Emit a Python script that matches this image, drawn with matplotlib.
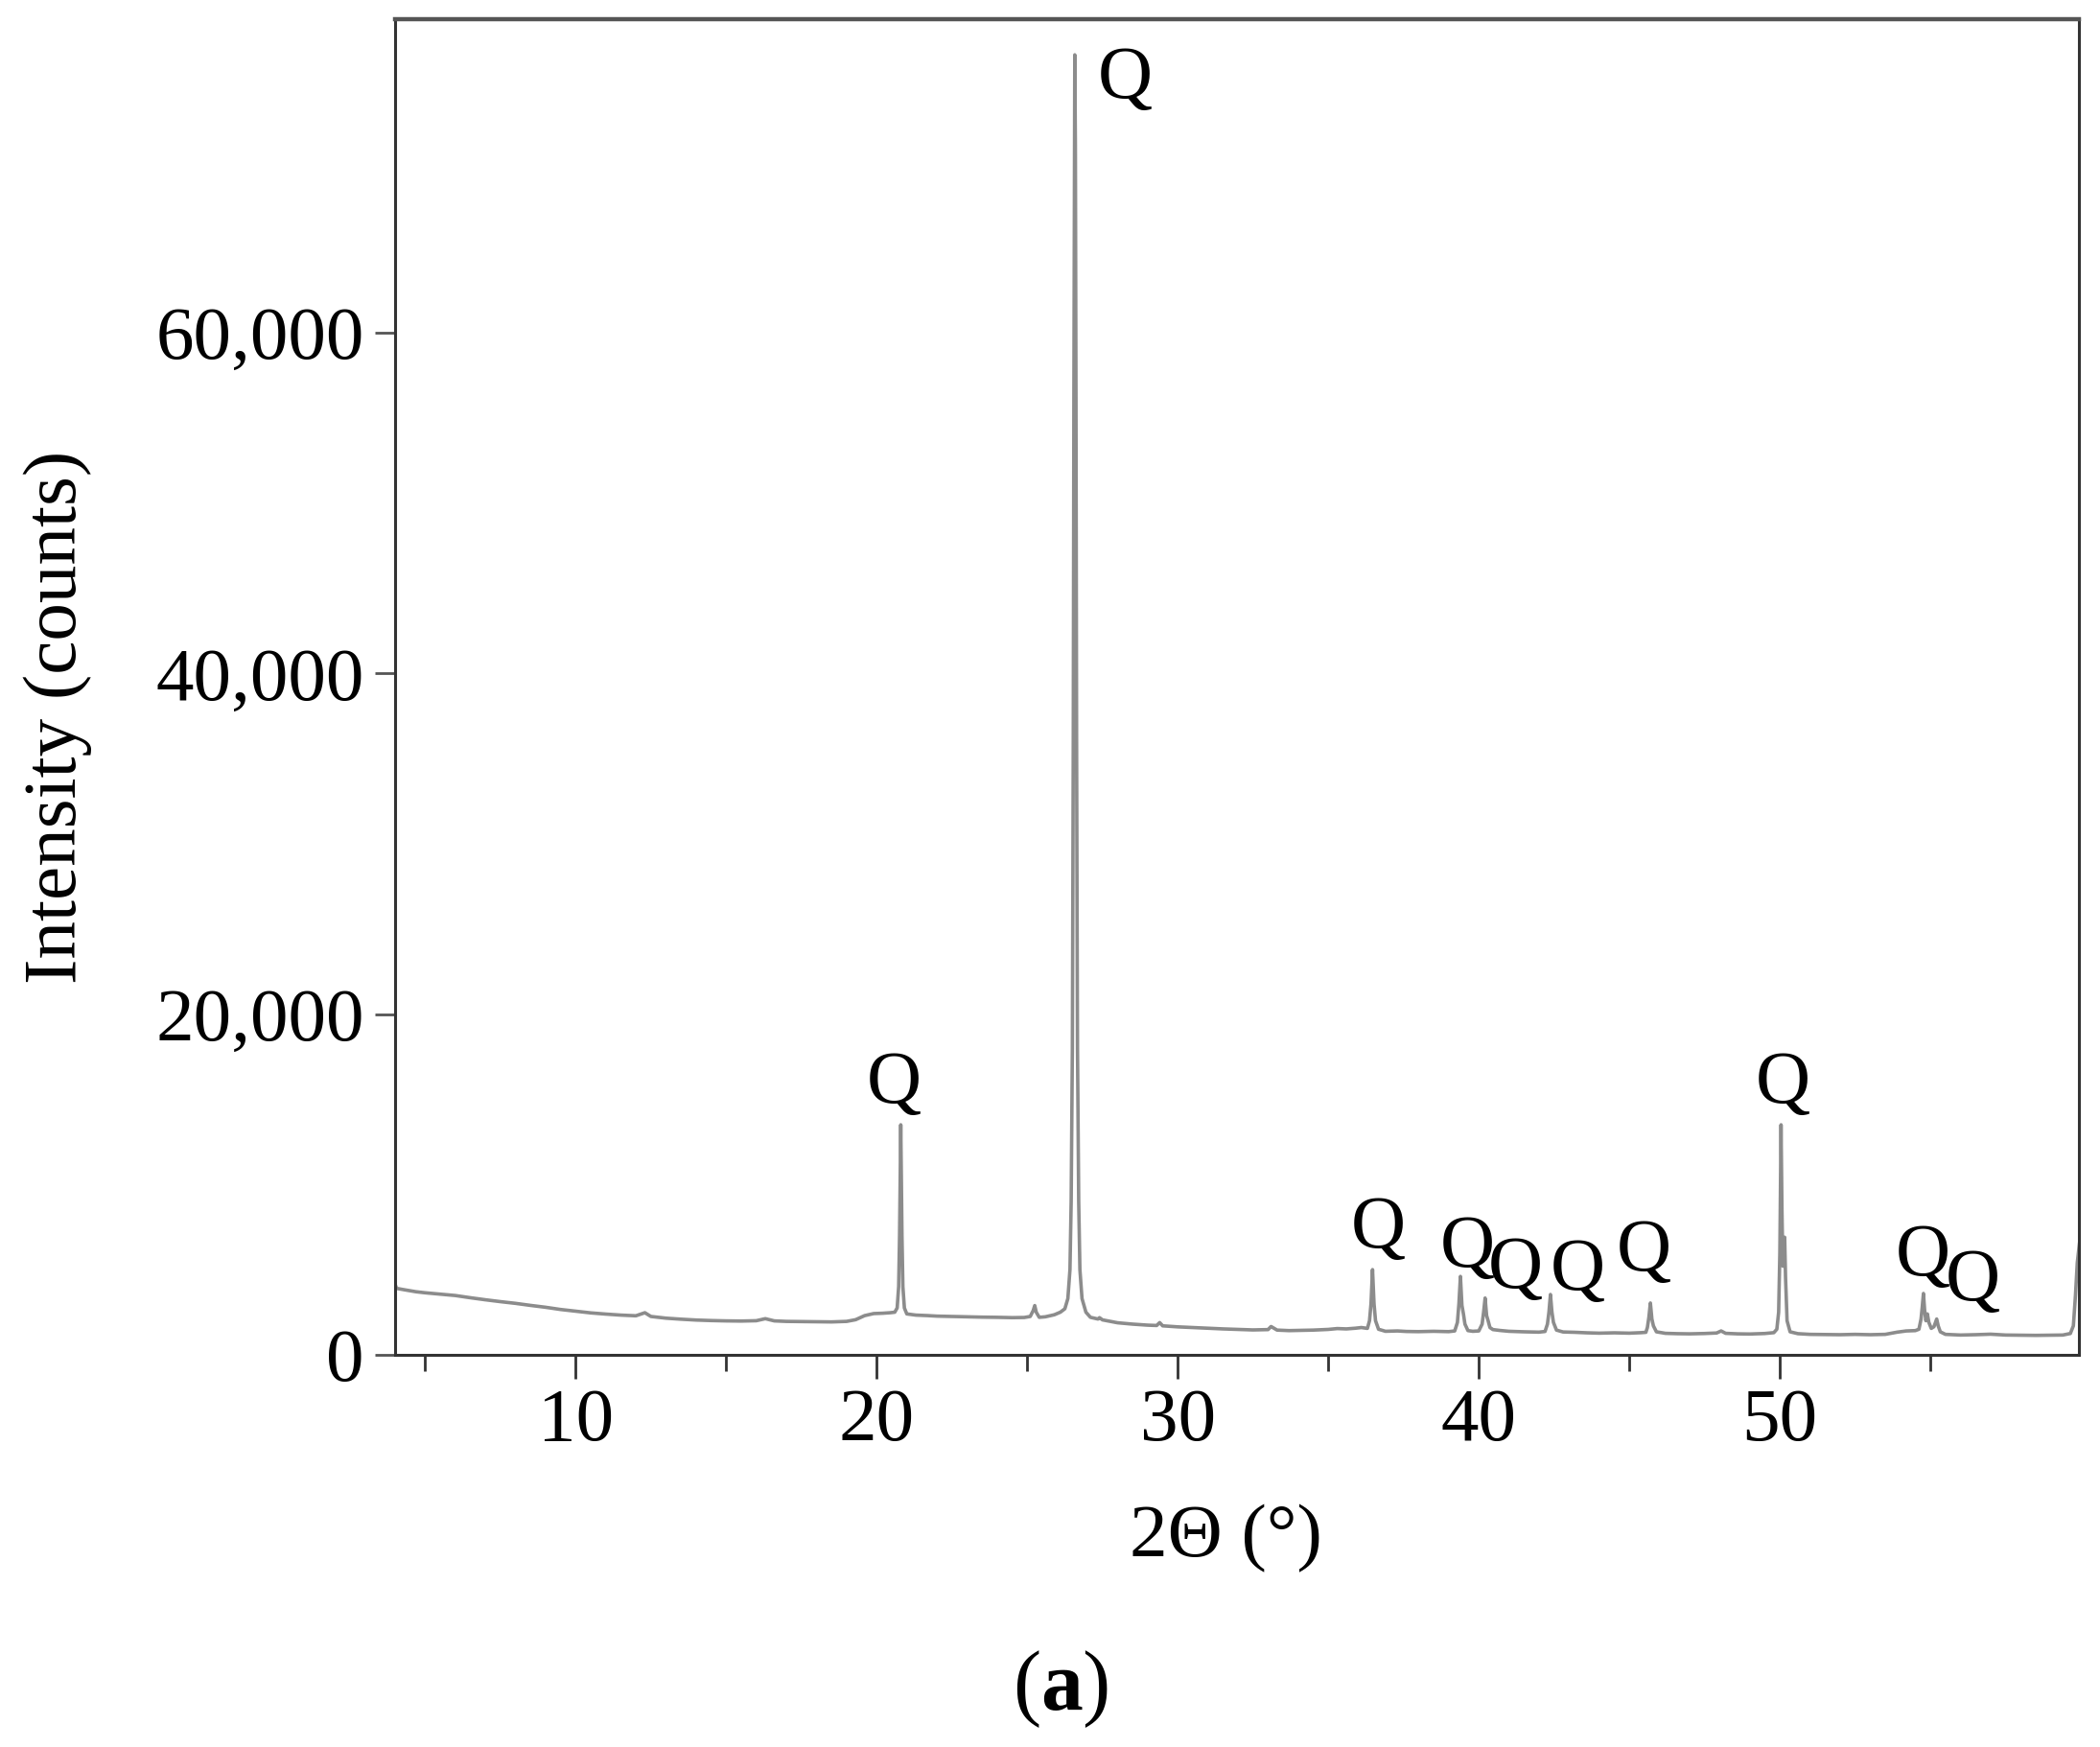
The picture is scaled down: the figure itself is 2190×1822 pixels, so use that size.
import matplotlib
matplotlib.use("Agg")
import matplotlib.pyplot as plt
import numpy as np
from matplotlib.ticker import FuncFormatter, MultipleLocator

# XRD pattern: 2-theta (deg) and intensity (counts)
two_theta = [
    4.0, 4.05, 4.3, 4.7, 5.0, 5.5, 6.0, 6.5, 7.0, 7.5, 8.0, 8.5, 9.0, 9.5,
    10.0, 10.5, 11.0, 11.5, 12.0, 12.3, 12.5, 13.0, 13.5, 14.0, 14.5, 15.0,
    15.5, 16.0, 16.3, 16.6, 17.0, 17.5, 18.0, 18.5, 19.0, 19.3, 19.6, 19.9,
    20.2, 20.45,
    20.6, 20.68, 20.73, 20.76, 20.78, 20.8, 20.82, 20.84, 20.87, 20.92, 21.0,
    21.3, 21.7, 22.0, 22.5, 23.0, 23.5, 24.0, 24.5, 24.9, 25.1, 25.2, 25.25,
    25.3, 25.4, 25.6, 25.9, 26.1,
    26.25, 26.35, 26.42, 26.46, 26.5, 26.53, 26.55, 26.57, 26.58, 26.6,
    26.62, 26.64, 26.67, 26.71, 26.75, 26.82, 26.95, 27.1,
    27.35, 27.4, 27.5, 28.0, 28.5, 29.0, 29.3, 29.4, 29.5, 30.0, 30.5, 31.0,
    31.5, 32.0, 32.5, 33.0, 33.1, 33.3, 33.7, 34.0, 34.5, 35.0, 35.3, 35.6,
    35.9, 36.1, 36.3,
    36.37, 36.42, 36.47, 36.52, 36.57, 36.67,
    36.9, 37.3, 37.6, 38.0, 38.5, 39.0, 39.2,
    39.29, 39.34, 39.39, 39.44, 39.49, 39.54, 39.64,
    39.8, 40.0,
    40.11, 40.16, 40.21, 40.26, 40.31, 40.37, 40.47,
    40.7, 41.0, 41.5, 42.0, 42.2,
    42.28, 42.33, 42.38, 42.43, 42.48, 42.58,
    42.8, 43.2, 43.6, 44.0, 44.5, 45.0, 45.4, 45.55,
    45.6, 45.65, 45.7, 45.75, 45.8, 45.9,
    46.2, 46.6, 47.0, 47.5, 47.9, 48.05, 48.2, 48.6, 49.0, 49.5, 49.8,
    49.9, 49.96, 50.0, 50.02, 50.04, 50.07, 50.1, 50.13, 50.16, 50.19,
    50.24, 50.34,
    50.6, 51.0, 51.5, 52.0, 52.5, 53.0, 53.5, 53.9, 54.2, 54.5,
    54.62, 54.69, 54.73, 54.77, 54.81, 54.85, 54.9, 54.95, 55.03, 55.12,
    55.17, 55.21, 55.26, 55.33, 55.5,
    56.0, 56.5, 57.0, 57.5, 58.0, 58.5, 59.0, 59.4, 59.65, 59.75, 59.82,
    59.88, 59.95,
]
intensity = [
    4150, 3900, 3820, 3700, 3640, 3560, 3480, 3350, 3230, 3120, 3020, 2900, 2790, 2660,
    2560, 2460, 2390, 2330, 2290, 2470, 2250, 2150, 2090, 2040, 2010, 1990,
    1980, 2000, 2120, 1990, 1960, 1950, 1940, 1930, 1960, 2060, 2300, 2420,
    2440, 2470,
    2500, 2750, 4000, 7000, 10500, 13500, 10500, 7000, 4000, 2750, 2400,
    2330, 2300, 2270, 2250, 2230, 2210, 2200, 2180, 2190, 2250, 2600, 2890,
    2500, 2200, 2230, 2350, 2500,
    2700, 3300, 5000, 9000, 18000, 36000, 56000, 71000, 76300, 71000,
    56000, 36000, 18000, 9000, 5000, 3300, 2500, 2200,
    2100, 2180, 2050, 1880, 1800, 1740, 1720, 1890, 1700, 1640, 1600, 1560,
    1520, 1490, 1460, 1480, 1660, 1450, 1420, 1430, 1450, 1490, 1540, 1520,
    1560, 1600, 1550,
    2000, 3000, 5000, 3000, 2000, 1500,
    1380, 1400, 1370, 1360, 1380, 1360, 1400,
    1900, 3000, 4600, 2900, 2400, 1800, 1420,
    1380, 1400,
    1800, 2500, 3330, 2300, 2000, 1600, 1480,
    1430, 1380, 1350, 1330, 1370,
    1800, 2500, 3540, 2500, 1900, 1450,
    1340, 1320, 1290, 1270, 1290, 1270, 1300, 1320,
    1600, 2200, 3040, 2100, 1700, 1350,
    1260, 1240, 1230, 1250, 1280, 1400, 1260, 1230, 1220, 1250, 1300,
    1500, 2500, 6000, 10000, 13500, 8500, 5200, 5800, 6900, 4500,
    2000, 1350,
    1240, 1200, 1190, 1180, 1200, 1180, 1200, 1330, 1400, 1420,
    1500, 2100, 2800, 3600, 2600, 2000, 2400, 1900, 1550, 1650,
    1900, 2100, 1700, 1350, 1200,
    1160, 1180, 1210, 1160, 1150, 1140, 1150, 1160, 1250, 1700, 3500,
    5400, 6500,
]

# quartz peak labels (label centre 2-theta, label baseline counts)
q_theta = [20.59, 28.25, 36.66, 39.61, 41.22, 43.3, 45.47, 50.09, 54.75, 56.4]
q_counts = [14800, 73800, 6280, 5200, 3950, 3850, 4950, 14800, 4650, 3200]

x_ticks = [10, 20, 30, 40, 50]
y_ticks = [0, 20000, 40000, 60000]

plt.rcParams['font.family'] = ['Liberation Serif', 'DejaVu Serif']
plt.rcParams['mathtext.fontset'] = 'custom'
plt.rcParams['mathtext.rm'] = 'Liberation Serif'
plt.rcParams['mathtext.bf'] = 'Liberation Serif:bold'

fig = plt.figure(figsize=(21.9, 18.22), dpi=100)
ax = fig.add_axes([0.1881, 0.2245, 0.8018, 0.7646])

ax.plot(two_theta, intensity, color='#8c8c8c', lw=2.6)

for x, y in zip(q_theta, q_counts):
    ax.text(x, y, 'Q', ha='center', va='baseline', fontsize=57)

ax.set_xlim(4, 59.93)
ax.set_ylim(0, 78400)
ax.set_xticks(x_ticks)
ax.xaxis.set_minor_locator(MultipleLocator(5))
ax.set_yticks(y_ticks)
ax.yaxis.set_major_formatter(FuncFormatter(lambda v, p: f"{v:,.0f}"))

ax.tick_params(axis='x', which='major', direction='out', length=18, width=2.0,
               pad=7, labelsize=57, color='#333333')
ax.tick_params(axis='x', which='minor', direction='out', length=12, width=2.0,
               color='#333333')
ax.tick_params(axis='y', direction='out', length=15, width=2.0, pad=8,
               labelsize=57, color='#555555')

for side in ['left', 'bottom', 'right']:
    ax.spines[side].set_linewidth(2.2)
    ax.spines[side].set_color('#333333')
ax.spines['top'].set_linewidth(3.2)
ax.spines['top'].set_color('#555555')

fig.text(0.0274, 0.5897, 'Intensity (counts)', rotation=90, ha='center',
         va='center', fontsize=57)
fig.text(0.5836, 0.1092, '2\u0398 (\u00b0)', ha='center', va='baseline',
         fontsize=57)
fig.text(0.505, 0.0214, r'$(\mathbf{a})$', ha='center', va='baseline',
         fontsize=63)

assert len(two_theta) == len(intensity)
fig.savefig('out.png', dpi=100)
